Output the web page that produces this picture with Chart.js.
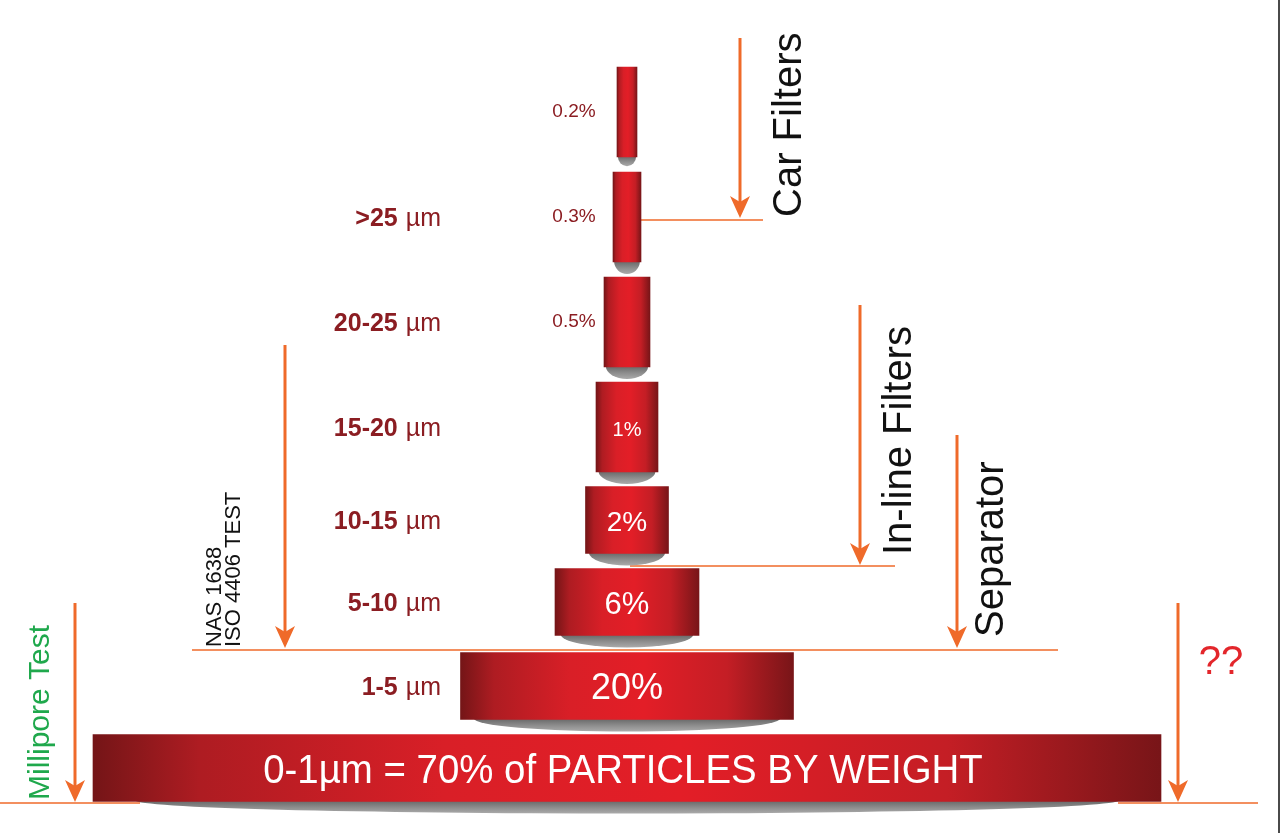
<!DOCTYPE html>
<html>
<head>
<meta charset="utf-8">
<title>Particles by weight</title>
<script src="https://cdn.jsdelivr.net/npm/chart.js@4.4.1/dist/chart.umd.min.js"></script>
<style>
    html, body { margin: 0; padding: 0; background: #fff; }
    #wrap { width: 1278px; height: 833px; border-right: 2px solid #4a4a4a; }
</style>
</head>
<body>
<div id="wrap"><canvas id="pyramid" width="1278" height="833"></canvas></div>
<script>
// Share of particles per size range (coarse to fine)
const shares = ['0.2%', '0.3%', '0.5%', '1%', '2%', '6%', '20%', '70%'];
const sizeRanges = ['', '>25', '20-25', '15-20', '10-15', '5-10', '1-5', '0-1'];
const unit = 'µm';
// Cylinder widths (x axis units)
const widths = [20, 28, 46, 62, 83, 144, 333, 1068];
// Level of each tier on the vertical axis
const levels = [691, 586, 481, 376, 283, 201, 117, 35];
const bottomCaption = '0-1µm = 70% of PARTICLES BY WEIGHT';

const ORANGE = '#ef6a2a';
const DARK_RED = '#8b1d22';
const FONT = '"Liberation Sans", Arial, sans-serif';

// Arrows and guide lines, in axis units
const arrows = [
    { x: 113, from: 765, to: 585 },
    { x: 233, from: 498, to: 238 },
    { x: 330, from: 368, to: 155 },
    { x: -342, from: 458, to: 155 },
    { x: -552, from: 200, to: 1 },
    { x: 551, from: 200, to: 1 }
];
const guides = [
    { y: 583, from: 13, to: 136 },
    { y: 237, from: 3, to: 268 },
    { y: 153, from: -435, to: 431 },
    { y: 0, from: -627, to: -487 },
    { y: 0, from: 491, to: 631 }
];
const sideTexts = [
    { text: 'Car Filters', x: 174, y: 586, size: 40, color: '#111' },
    { text: 'In-line Filters', x: 284, y: 248, size: 40, color: '#111' },
    { text: 'Separator', x: 376, y: 166, size: 40, color: '#111' },
    { text: 'NAS 1638', x: -406, y: 156, size: 22, color: '#111' },
    { text: 'ISO 4406 TEST', x: -387, y: 156, size: 22, color: '#111' },
    { text: 'Millipore Test', x: -578, y: 3, size: 30, color: '#1fa84c' }
];

// Red cylinder shading, left to right
function redFill(context) {
    const chart = context.chart;
    const raw = context.raw;
    if (!chart.chartArea || !raw) return '#d71f26';
    const xs = chart.scales.x;
    const l = xs.getPixelForValue(raw.x[0]);
    const r = xs.getPixelForValue(raw.x[1]);
    const g = chart.ctx.createLinearGradient(l, 0, r, 0);
    g.addColorStop(0, '#741517');
    g.addColorStop(0.1, '#ae1c22');
    g.addColorStop(0.33, '#d91f27');
    g.addColorStop(0.55, '#e31e27');
    g.addColorStop(0.8, '#c41e25');
    g.addColorStop(1, '#781518');
    return g;
}

function verticalText(ctx, t, px, py) {
    ctx.save();
    ctx.translate(px, py);
    ctx.rotate(-Math.PI / 2);
    ctx.font = t.size + 'px ' + FONT;
    ctx.fillStyle = t.color;
    ctx.textAlign = 'left';
    ctx.textBaseline = 'alphabetic';
    ctx.fillText(t.text, 0, 0);
    ctx.restore();
}

const pyramidDecor = {
    id: 'pyramidDecor',
    beforeDatasetsDraw(chart) {
        const { ctx, scales: { x, y } } = chart;
        ctx.save();
        // guide lines
        ctx.strokeStyle = ORANGE;
        ctx.lineWidth = 1.6;
        guides.forEach(g => {
            ctx.beginPath();
            ctx.moveTo(x.getPixelForValue(g.from), y.getPixelForValue(g.y));
            ctx.lineTo(x.getPixelForValue(g.to), y.getPixelForValue(g.y));
            ctx.stroke();
        });
        // grey bottom caps of the cylinders
        chart.data.datasets.forEach((ds, i) => {
            const bar = chart.getDatasetMeta(i).data[0];
            const p = bar.getProps(['x', 'y', 'base', 'height'], true);
            const cx = (p.x + p.base) / 2;
            const rx = Math.abs(p.x - p.base) / 2 * 0.92;
            const ry = Math.min(13, rx + 1);
            const bottom = p.y + p.height / 2 - 1;
            const g = ctx.createLinearGradient(0, bottom, 0, bottom + ry);
            g.addColorStop(0, '#666');
            g.addColorStop(0.55, '#8e8e8e');
            g.addColorStop(1, '#aaa');
            ctx.fillStyle = g;
            ctx.beginPath();
            ctx.ellipse(cx, bottom, rx, ry, 0, 0, Math.PI);
            ctx.closePath();
            ctx.fill();
        });
        ctx.restore();
    },
    afterDatasetsDraw(chart) {
        const { ctx, scales: { x, y } } = chart;
        ctx.save();
        // arrows
        arrows.forEach(a => {
            const px = x.getPixelForValue(a.x);
            const top = y.getPixelForValue(a.from);
            const tip = y.getPixelForValue(a.to);
            ctx.strokeStyle = ORANGE;
            ctx.lineWidth = 3;
            ctx.beginPath();
            ctx.moveTo(px, top);
            ctx.lineTo(px, tip - 12);
            ctx.stroke();
            ctx.fillStyle = ORANGE;
            ctx.beginPath();
            ctx.moveTo(px - 10, tip - 22);
            ctx.lineTo(px, tip - 16);
            ctx.lineTo(px + 10, tip - 22);
            ctx.lineTo(px, tip);
            ctx.closePath();
            ctx.fill();
        });

        // share labels and size labels
        chart.data.datasets.forEach((ds, i) => {
            const bar = chart.getDatasetMeta(i).data[0];
            const p = bar.getProps(['x', 'y', 'base'], true);
            const cx = (p.x + p.base) / 2;
            ctx.textBaseline = 'middle';
            ctx.textAlign = 'center';
            if (i < 3) {
                ctx.font = '19px ' + FONT;
                ctx.fillStyle = DARK_RED;
                ctx.fillText(shares[i], x.getPixelForValue(-53), p.y);
            } else if (i < shares.length - 1) {
                const sizes = [0, 0, 0, 20, 28, 31, 36];
                ctx.font = sizes[i] + 'px ' + FONT;
                ctx.fillStyle = '#fff';
                ctx.fillText(shares[i], cx, p.y + 3);
            } else {
                ctx.save();
                ctx.translate(cx - 4, p.y + 4);
                ctx.scale(0.96, 1);
                ctx.font = '40px ' + FONT;
                ctx.fillStyle = '#fff';
                ctx.fillText(bottomCaption, 0, 0);
                ctx.restore();
            }
            if (sizeRanges[i] && i < shares.length - 1) {
                const right = x.getPixelForValue(-186);
                ctx.textAlign = 'right';
                ctx.fillStyle = DARK_RED;
                ctx.font = '25px ' + FONT;
                ctx.fillText(unit, right, p.y + 2);
                const uw = ctx.measureText(unit).width;
                ctx.font = 'bold 25px ' + FONT;
                ctx.fillText(sizeRanges[i], right - uw - 8, p.y + 2);
            }
        });

        // rotated captions
        sideTexts.forEach(t => verticalText(ctx, t, x.getPixelForValue(t.x), y.getPixelForValue(t.y)));

        ctx.font = '40px ' + FONT;
        ctx.fillStyle = '#e3262b';
        ctx.textAlign = 'center';
        ctx.textBaseline = 'middle';
        ctx.fillText('??', x.getPixelForValue(594), y.getPixelForValue(140));
        ctx.restore();
    }
};

new Chart(document.getElementById('pyramid'), {
    type: 'bar',
    data: {
        datasets: shares.map((s, i) => ({
            label: s,
            data: [{ x: [-widths[i] / 2, widths[i] / 2], y: levels[i] }],
            backgroundColor: redFill,
            barThickness: i < 4 ? 90 : 67,
            grouped: false,
            borderWidth: 0
        }))
    },
    options: {
        indexAxis: 'y',
        responsive: false,
        animation: false,
        devicePixelRatio: 1,
        layout: { padding: 0 },
        plugins: {
            legend: { display: false },
            tooltip: { enabled: false }
        },
        scales: {
            x: { type: 'linear', min: -627, max: 651, display: false },
            y: { type: 'linear', min: -30, max: 803, offset: false, display: false }
        }
    },
    plugins: [pyramidDecor]
});
</script>
</body>
</html>
